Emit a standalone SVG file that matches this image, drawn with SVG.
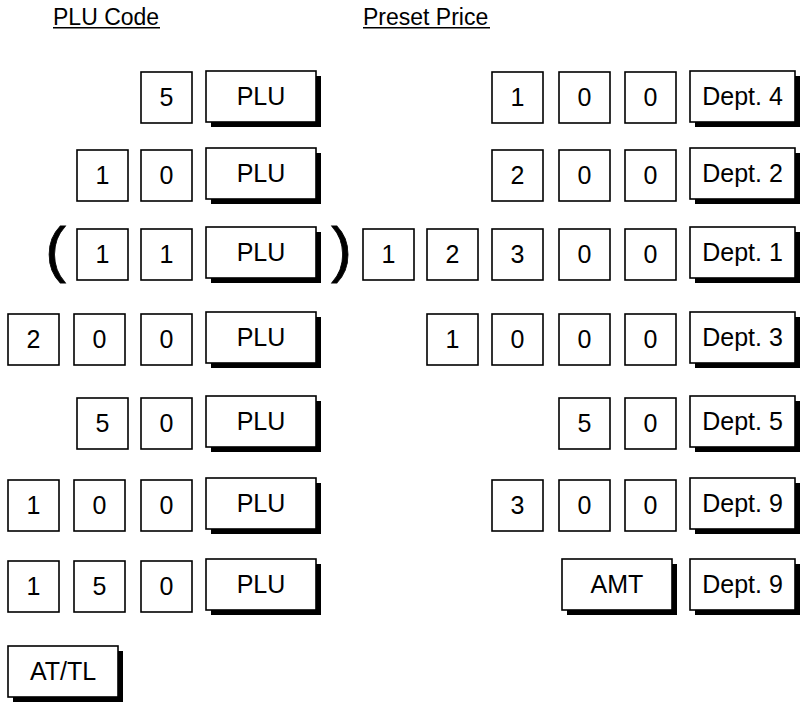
<svg xmlns="http://www.w3.org/2000/svg" width="802" height="703" viewBox="0 0 802 703">
<style>
.k{fill:#fff;stroke:#000;stroke-width:1.6}
.sh{fill:#000}
.t{font-family:"Liberation Sans",Arial,sans-serif;font-size:25px;fill:#000;text-anchor:middle}
.h{font-family:"Liberation Sans",Arial,sans-serif;font-size:23px;fill:#000}
.p{font-family:"Liberation Sans",Arial,sans-serif;font-size:62px;fill:#000;stroke:#000;stroke-width:0.8;text-anchor:middle}
</style>
<defs>
<g id="sk"><rect class="k" x="0" y="0" width="51" height="51"/></g>
<g id="wk"><rect class="sh" x="5" y="5" width="110" height="51"/><rect class="k" x="0" y="0" width="110" height="51"/></g>
<g id="dk"><rect class="sh" x="5" y="5" width="105" height="51"/><rect class="k" x="0" y="0" width="105" height="51"/></g>
</defs>
<g id="headers">
<text class="h" x="53" y="25">PLU Code</text>
<rect x="53" y="27" width="107" height="1.5" fill="#000"/>
<text class="h" x="363" y="25">Preset Price</text>
<rect x="363" y="27" width="127" height="1.5" fill="#000"/>
</g>
<g id="connectors"></g>
<!-- Row 1 -->
<g id="r1-5"><use href="#sk" x="141" y="72"/><text class="t" x="166.5" y="106">5</text></g>
<g id="r1-plu"><use href="#wk" x="206" y="71"/><text class="t" x="261" y="105">PLU</text></g>
<g id="r1p-1"><use href="#sk" x="492" y="72"/><text class="t" x="517.5" y="106">1</text></g>
<g id="r1p-0a"><use href="#sk" x="559" y="72"/><text class="t" x="584.5" y="106">0</text></g>
<g id="r1p-0b"><use href="#sk" x="625" y="72"/><text class="t" x="650.5" y="106">0</text></g>
<g id="r1p-dept"><use href="#dk" x="690" y="71"/><text class="t" x="742.5" y="105">Dept. 4</text></g>
<!-- Row 2 -->
<g id="r2-1"><use href="#sk" x="77" y="150"/><text class="t" x="102.5" y="184">1</text></g>
<g id="r2-0"><use href="#sk" x="141" y="150"/><text class="t" x="166.5" y="184">0</text></g>
<g id="r2-plu"><use href="#wk" x="206" y="148"/><text class="t" x="261" y="182">PLU</text></g>
<g id="r2p-2"><use href="#sk" x="492" y="150"/><text class="t" x="517.5" y="184">2</text></g>
<g id="r2p-0a"><use href="#sk" x="559" y="150"/><text class="t" x="584.5" y="184">0</text></g>
<g id="r2p-0b"><use href="#sk" x="625" y="150"/><text class="t" x="650.5" y="184">0</text></g>
<g id="r2p-dept"><use href="#dk" x="690" y="148"/><text class="t" x="742.5" y="182">Dept. 2</text></g>
<!-- Row 3 -->
<g id="r3-paren-l"><text class="p" x="55.5" y="270">(</text></g>
<g id="r3-1a"><use href="#sk" x="77" y="229"/><text class="t" x="102.5" y="263">1</text></g>
<g id="r3-1b"><use href="#sk" x="141" y="229"/><text class="t" x="166.5" y="263">1</text></g>
<g id="r3-plu"><use href="#wk" x="206" y="227"/><text class="t" x="261" y="261">PLU</text></g>
<g id="r3-paren-r"><text class="p" x="341.5" y="270">)</text></g>
<g id="r3p-1"><use href="#sk" x="363" y="229"/><text class="t" x="388.5" y="263">1</text></g>
<g id="r3p-2"><use href="#sk" x="427" y="229"/><text class="t" x="452.5" y="263">2</text></g>
<g id="r3p-3"><use href="#sk" x="492" y="229"/><text class="t" x="517.5" y="263">3</text></g>
<g id="r3p-0a"><use href="#sk" x="559" y="229"/><text class="t" x="584.5" y="263">0</text></g>
<g id="r3p-0b"><use href="#sk" x="625" y="229"/><text class="t" x="650.5" y="263">0</text></g>
<g id="r3p-dept"><use href="#dk" x="690" y="227"/><text class="t" x="742.5" y="261">Dept. 1</text></g>
<!-- Row 4 -->
<g id="r4-2"><use href="#sk" x="8" y="314"/><text class="t" x="33.5" y="348">2</text></g>
<g id="r4-0a"><use href="#sk" x="74" y="314"/><text class="t" x="99.5" y="348">0</text></g>
<g id="r4-0b"><use href="#sk" x="141" y="314"/><text class="t" x="166.5" y="348">0</text></g>
<g id="r4-plu"><use href="#wk" x="206" y="312"/><text class="t" x="261" y="346">PLU</text></g>
<g id="r4p-1"><use href="#sk" x="427" y="314"/><text class="t" x="452.5" y="348">1</text></g>
<g id="r4p-0a"><use href="#sk" x="492" y="314"/><text class="t" x="517.5" y="348">0</text></g>
<g id="r4p-0b"><use href="#sk" x="559" y="314"/><text class="t" x="584.5" y="348">0</text></g>
<g id="r4p-0c"><use href="#sk" x="625" y="314"/><text class="t" x="650.5" y="348">0</text></g>
<g id="r4p-dept"><use href="#dk" x="690" y="312"/><text class="t" x="742.5" y="346">Dept. 3</text></g>
<!-- Row 5 -->
<g id="r5-5"><use href="#sk" x="77" y="398"/><text class="t" x="102.5" y="432">5</text></g>
<g id="r5-0"><use href="#sk" x="141" y="398"/><text class="t" x="166.5" y="432">0</text></g>
<g id="r5-plu"><use href="#wk" x="206" y="396"/><text class="t" x="261" y="430">PLU</text></g>
<g id="r5p-5"><use href="#sk" x="559" y="398"/><text class="t" x="584.5" y="432">5</text></g>
<g id="r5p-0"><use href="#sk" x="625" y="398"/><text class="t" x="650.5" y="432">0</text></g>
<g id="r5p-dept"><use href="#dk" x="690" y="396"/><text class="t" x="742.5" y="430">Dept. 5</text></g>
<!-- Row 6 -->
<g id="r6-1"><use href="#sk" x="8" y="480"/><text class="t" x="33.5" y="514">1</text></g>
<g id="r6-0a"><use href="#sk" x="74" y="480"/><text class="t" x="99.5" y="514">0</text></g>
<g id="r6-0b"><use href="#sk" x="141" y="480"/><text class="t" x="166.5" y="514">0</text></g>
<g id="r6-plu"><use href="#wk" x="206" y="478"/><text class="t" x="261" y="512">PLU</text></g>
<g id="r6p-3"><use href="#sk" x="492" y="480"/><text class="t" x="517.5" y="514">3</text></g>
<g id="r6p-0a"><use href="#sk" x="559" y="480"/><text class="t" x="584.5" y="514">0</text></g>
<g id="r6p-0b"><use href="#sk" x="625" y="480"/><text class="t" x="650.5" y="514">0</text></g>
<g id="r6p-dept"><use href="#dk" x="690" y="478"/><text class="t" x="742.5" y="512">Dept. 9</text></g>
<!-- Row 7 -->
<g id="r7-1"><use href="#sk" x="8" y="561"/><text class="t" x="33.5" y="595">1</text></g>
<g id="r7-5"><use href="#sk" x="74" y="561"/><text class="t" x="99.5" y="595">5</text></g>
<g id="r7-0"><use href="#sk" x="141" y="561"/><text class="t" x="166.5" y="595">0</text></g>
<g id="r7-plu"><use href="#wk" x="206" y="559"/><text class="t" x="261" y="593">PLU</text></g>
<g id="r7p-amt"><use href="#wk" x="562" y="559"/><text class="t" x="617" y="593">AMT</text></g>
<g id="r7p-dept"><use href="#dk" x="690" y="559"/><text class="t" x="742.5" y="593">Dept. 9</text></g>
<!-- AT/TL -->
<g id="attl"><use href="#wk" x="8" y="646"/><text class="t" x="63" y="680">AT/TL</text></g>
</svg>
